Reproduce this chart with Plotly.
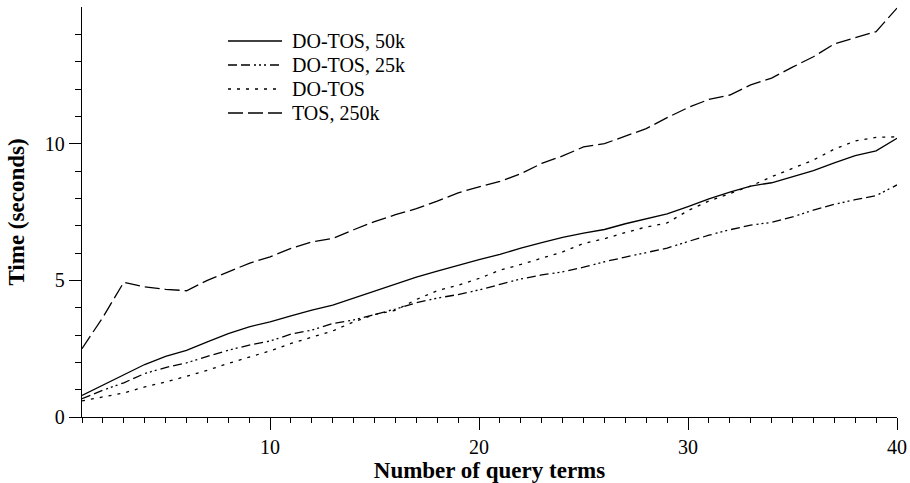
import plotly.graph_objects as go

x_terms = list(range(1, 41))

do_tos_50k = [0.79, 1.16, 1.53, 1.92, 2.22, 2.44, 2.75, 3.05, 3.30, 3.48,
              3.70, 3.91, 4.09, 4.35, 4.62, 4.88, 5.12, 5.34, 5.56, 5.76,
              5.95, 6.18, 6.38, 6.57, 6.73, 6.86, 7.07, 7.26, 7.43, 7.70,
              7.98, 8.23, 8.45, 8.57, 8.78, 9.01, 9.30, 9.56, 9.74, 10.20]

do_tos_25k = [0.67, 0.98, 1.25, 1.59, 1.81, 1.98, 2.22, 2.44, 2.63, 2.78,
              3.03, 3.18, 3.42, 3.55, 3.75, 3.95, 4.18, 4.35, 4.48, 4.65,
              4.85, 5.05, 5.20, 5.31, 5.48, 5.68, 5.85, 6.02, 6.18, 6.42,
              6.65, 6.85, 7.02, 7.12, 7.32, 7.57, 7.78, 7.95, 8.10, 8.49]

do_tos = [0.59, 0.73, 0.88, 1.10, 1.28, 1.49, 1.71, 1.96, 2.20, 2.42,
          2.69, 2.93, 3.15, 3.48, 3.75, 3.90, 4.30, 4.62, 4.82, 5.07,
          5.37, 5.58, 5.82, 6.04, 6.35, 6.52, 6.75, 6.95, 7.10, 7.55,
          7.90, 8.18, 8.45, 8.79, 9.10, 9.40, 9.80, 10.10, 10.23, 10.25]

tos_250k = [2.50, 3.65, 4.93, 4.76, 4.67, 4.62, 5.00, 5.31, 5.62, 5.86,
            6.17, 6.41, 6.53, 6.85, 7.15, 7.40, 7.62, 7.90, 8.20, 8.42,
            8.62, 8.90, 9.28, 9.55, 9.88, 10.00, 10.28, 10.55, 10.95, 11.32,
            11.62, 11.78, 12.15, 12.40, 12.80, 13.18, 13.65, 13.88, 14.10, 14.96]

series_names = ["DO-TOS, 50k", "DO-TOS, 25k", "DO-TOS", "TOS, 250k"]
x_tick_vals = [10, 20, 30, 40]
y_tick_vals = [0, 5, 10]

series = [do_tos_50k, do_tos_25k, do_tos, tos_250k]
dashes = ["solid",
          "9px,4px,9px,4px,2px,3px,2px,3px,2px,4px",
          "3px,6px",
          "15px,5px"]

font_family = "Liberation Serif, Times New Roman, serif"

W, H = 910, 483
ML, MR, MT, MB = 82, 13, 7, 66
PW, PH = W - ML - MR, H - MT - MB

fig = go.Figure()
for name, ys, d in zip(series_names, series, dashes):
    fig.add_trace(go.Scatter(
        x=x_terms, y=ys, mode="lines", name=name, showlegend=False,
        line=dict(color="black", width=1.3, dash=d),
    ))

# hand-drawn legend (line samples + labels) in plot-area paper coordinates
leg_x0, leg_x1, leg_tx = 228, 282, 290
leg_rows = [41, 65, 89, 113]
for name, d, py in zip(series_names, dashes, leg_rows):
    yp = (H - MB - py) / PH
    fig.add_shape(type="line", xref="paper", yref="paper",
                  x0=(leg_x0 - ML) / PW, x1=(leg_x1 - ML) / PW, y0=yp, y1=yp,
                  line=dict(color="black", width=1.3, dash=d))
    fig.add_annotation(xref="paper", yref="paper", x=(leg_tx - ML) / PW, y=yp,
                       text=name, showarrow=False, xanchor="left", yanchor="middle",
                       font=dict(family=font_family, size=20, color="black"))

fig.update_layout(
    width=W, height=H,
    margin=dict(l=ML, r=MR, t=MT, b=MB),
    paper_bgcolor="white", plot_bgcolor="white",
    font=dict(family=font_family, color="black", size=20),
    showlegend=False,
    xaxis=dict(
        range=[1, 40], tickvals=x_tick_vals, ticks="outside", ticklen=12,
        tickwidth=1.3, tickcolor="black",
        showline=True, linecolor="black", linewidth=1.3,
        showgrid=False, zeroline=False, automargin=False,
        tickfont=dict(family=font_family, size=20),
        minor=dict(tickvals=x_terms, ticks="outside", ticklen=5,
                   tickwidth=1.2, tickcolor="black", showgrid=False),
        title=dict(text="<b>Number of query terms</b>", standoff=7,
                   font=dict(family=font_family, size=23)),
    ),
    yaxis=dict(
        range=[0, 15], tickvals=y_tick_vals, ticks="outside", ticklen=12,
        tickwidth=1.3, tickcolor="black",
        showline=True, linecolor="black", linewidth=1.3,
        showgrid=False, zeroline=False, automargin=False,
        tickfont=dict(family=font_family, size=20),
        minor=dict(tickvals=list(range(1, 15)), ticks="outside", ticklen=6,
                   tickwidth=1.2, tickcolor="black", showgrid=False),
        title=dict(text="<b>Time (seconds)</b>", standoff=13,
                   font=dict(family=font_family, size=23)),
    ),
)

fig.write_html("out.html",
               config={"displayModeBar": False},
               post_script="document.body.style.margin='0px';")
